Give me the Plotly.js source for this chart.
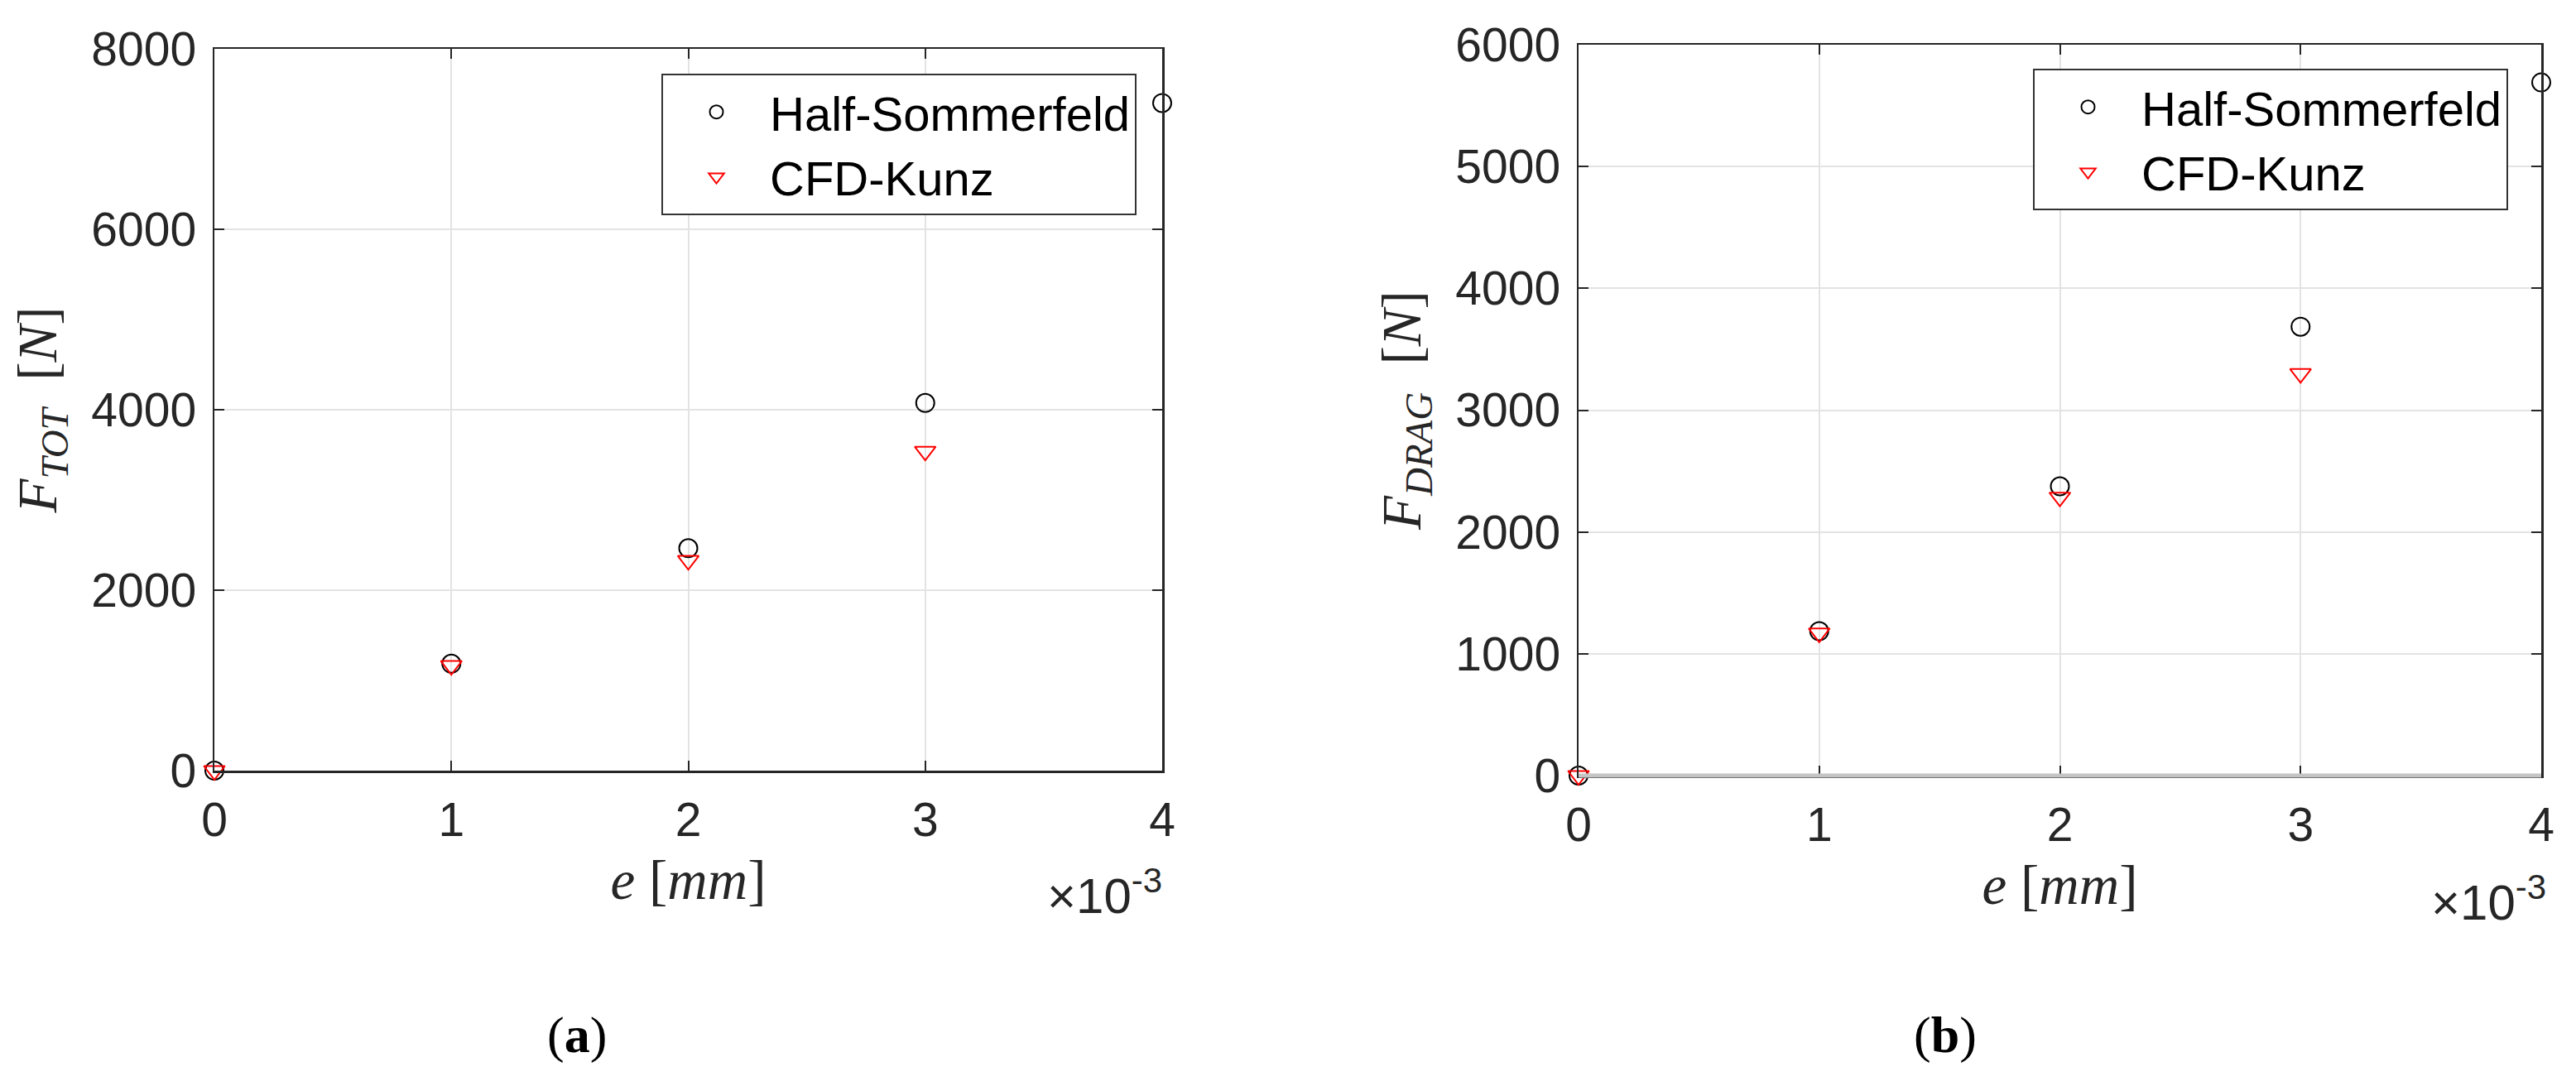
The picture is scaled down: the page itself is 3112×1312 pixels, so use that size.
<!DOCTYPE html>
<html><head><meta charset="utf-8">
<script src="https://cdn.plot.ly/plotly-3.0.1.min.js"></script>
<style>html,body{margin:0;padding:0;background:#fff}#chart{width:3112px;height:1312px}</style>
</head><body><div id="chart"></div>
<script>
// eccentricity e (values in mm, axis shows x10^-3)
const eccentricity = [0, 0.001, 0.002, 0.003, 0.004];
const eccentricityCfd = [0, 0.001, 0.002, 0.003];
// (a) total force [N]
const fTotHalfSommerfeld = [0, 1185, 2465, 4075, 7400];
const fTotCfdKunz = [0, 1165, 2330, 3540];
// (b) drag force [N]
const fDragHalfSommerfeld = [0, 1185, 2375, 3685, 5690];
const fDragCfdKunz = [0, 1170, 2285, 3300];
// ticks
const xTickVals = [0, 0.001, 0.002, 0.003, 0.004];
const xTickText = ['0', '1', '2', '3', '4'];
const yTickValsA = [0, 2000, 4000, 6000, 8000];
const yTickValsB = [0, 1000, 2000, 3000, 4000, 5000, 6000];
const seriesNames = ['Half-Sommerfeld', 'CFD-Kunz'];
const captions = ['(<b>a</b>)', '(<b>b</b>)'];

const W = 3112, H = 1312;
const px = v => v / W, py = v => 1 - v / H;

const axisColor = '#262626';
const tickFont = {family: 'Liberation Sans, Arial, sans-serif', size: 57, color: axisColor};
const texFont = {family: 'Liberation Serif, Times New Roman, serif', size: 67, color: '#262626'};
const NB = '\u00a0';

function xAxis(domain) {
  return {
    domain: domain, range: [0, 0.004], autorange: false,
    tickvals: xTickVals, ticktext: xTickText,
    ticks: 'inside', ticklen: 12, tickwidth: 2, tickcolor: axisColor,
    showline: true, linecolor: axisColor, linewidth: 2.5, mirror: 'ticks',
    showgrid: true, gridcolor: '#e3e3e3', gridwidth: 2, zeroline: false,
    tickfont: tickFont, ticklabelstandoff: 8,
    title: {text: '<i>e</i>' + NB + '[<i>mm</i>]', font: texFont, standoff: 18}
  };
}
function yAxis(domain, anchor, tickvals, maxv, title) {
  return {
    domain: domain, anchor: anchor, range: [0, maxv], autorange: false,
    tickvals: tickvals, tickformat: 'd',
    ticks: 'inside', ticklen: 12, tickwidth: 2, tickcolor: axisColor,
    showline: true, linecolor: axisColor, linewidth: 2.5, mirror: 'ticks',
    showgrid: true, gridcolor: '#e3e3e3', gridwidth: 2, zeroline: false,
    tickfont: tickFont, ticklabelstandoff: 8,
    title: {text: title, font: texFont, standoff: 20}
  };
}

const circ = {symbol: 'circle-open', size: 22, color: '#000', line: {color: '#000', width: 2}};
const tri = {symbol: 'triangle-down-open', size: 22, color: '#ff0000', line: {color: '#ff0000', width: 2}};

const traces = [
  {x: eccentricity, y: fTotHalfSommerfeld, name: seriesNames[0], type: 'scatter', mode: 'markers', marker: circ, xaxis: 'x', yaxis: 'y', legend: 'legend', cliponaxis: false},
  {x: eccentricityCfd, y: fTotCfdKunz, name: seriesNames[1], type: 'scatter', mode: 'markers', marker: tri, xaxis: 'x', yaxis: 'y', legend: 'legend', cliponaxis: false},
  {x: eccentricity, y: fDragHalfSommerfeld, name: seriesNames[0], type: 'scatter', mode: 'markers', marker: circ, xaxis: 'x2', yaxis: 'y2', legend: 'legend2', cliponaxis: false},
  {x: eccentricityCfd, y: fDragCfdKunz, name: seriesNames[1], type: 'scatter', mode: 'markers', marker: tri, xaxis: 'x2', yaxis: 'y2', legend: 'legend2', cliponaxis: false}
];

const legendBase = {
  bgcolor: '#ffffff', bordercolor: '#333333', borderwidth: 2,
  font: {family: 'Liberation Sans, Arial, sans-serif', size: 58, color: '#000'},
  itemwidth: 119, xanchor: 'left', yanchor: 'top', tracegroupgap: 0
};

const expoText = '×10<sup>-3</sup>';
const expoFont = {family: 'Liberation Sans, Arial, sans-serif', size: 60, color: axisColor};

const layout = {
  width: W, height: H,
  margin: {l: 0, r: 0, t: 0, b: 0},
  paper_bgcolor: '#fff', plot_bgcolor: '#fff',
  showlegend: true,
  xaxis: xAxis([px(259), px(1404)]),
  yaxis: yAxis([py(931), py(59)], 'x', yTickValsA, 8000, '<i>F</i><sub><i>TOT</i></sub>' + NB + NB + '[<i>N</i>]'),
  xaxis2: Object.assign(xAxis([px(1907), px(3070)]), {anchor: 'y2'}),
  yaxis2: yAxis([py(937), py(54)], 'x2', yTickValsB, 6000, '<i>F</i><sub><i>DRAG</i></sub>' + NB + NB + '[<i>N</i>]'),
  legend: Object.assign({}, legendBase, {x: px(799), y: py(89)}),
  legend2: Object.assign({}, legendBase, {x: px(2456), y: py(83)}),
  shapes: [
    {type: 'line', xref: 'x2 domain', yref: 'y2 domain', x0: 0, x1: 1, y0: 0, y1: 0, layer: 'above', line: {color: '#c4c4c4', width: 5}}
  ],
  annotations: [
    {xref: 'paper', yref: 'paper', x: px(1406), y: py(1118), xanchor: 'right', yanchor: 'bottom', text: expoText, showarrow: false, font: expoFont},
    {xref: 'paper', yref: 'paper', x: px(3078), y: py(1126), xanchor: 'right', yanchor: 'bottom', text: expoText, showarrow: false, font: expoFont},
    {xref: 'paper', yref: 'paper', x: px(697), y: py(1250), xanchor: 'center', yanchor: 'middle', text: captions[0], showarrow: false, font: {family: 'Liberation Serif, Times New Roman, serif', size: 62, color: '#000'}},
    {xref: 'paper', yref: 'paper', x: px(2350), y: py(1250), xanchor: 'center', yanchor: 'middle', text: captions[1], showarrow: false, font: {family: 'Liberation Serif, Times New Roman, serif', size: 62, color: '#000'}}
  ]
};

Plotly.newPlot('chart', traces, layout, {staticPlot: true, displayModeBar: false});
</script>
</body></html>
